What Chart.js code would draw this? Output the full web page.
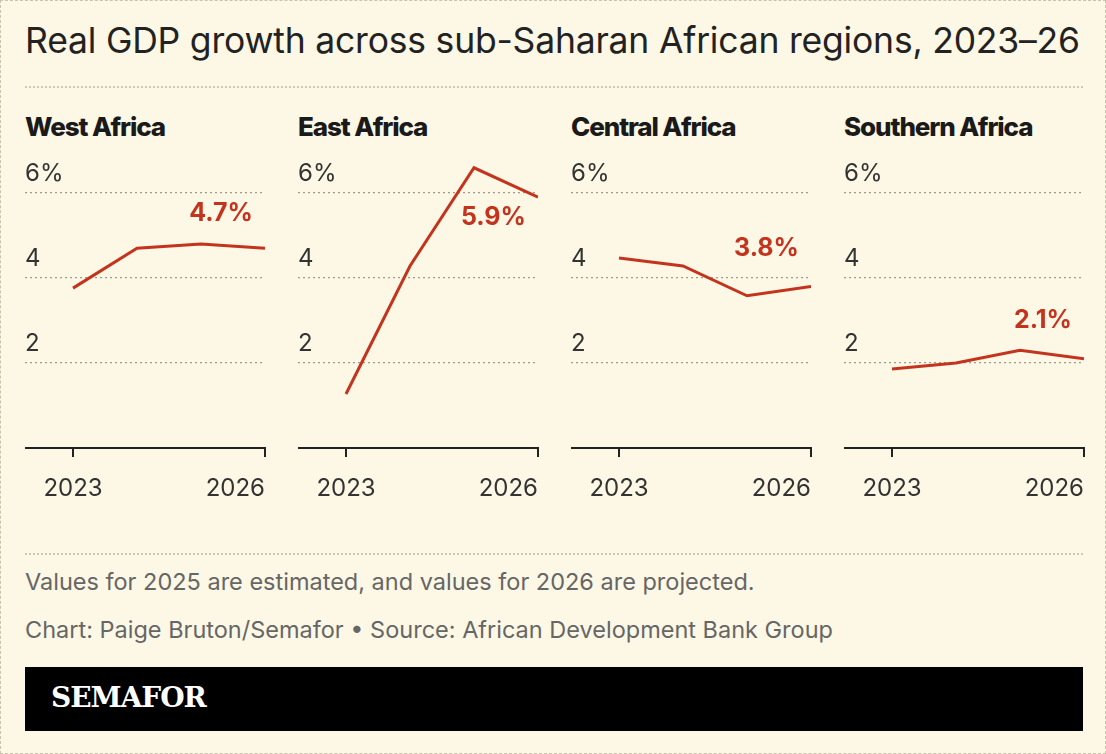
<!DOCTYPE html>
<html><head><meta charset="utf-8">
<script src="https://cdn.jsdelivr.net/npm/chart.js@4"></script>
<style>
body{margin:0;background:#fff;font-family:Inter,Roboto,sans-serif}
#wrap{position:absolute;left:0;top:0;width:1104px;height:752px;background:#fdf8e5;border:1px dashed #c9c3ad}
.title{position:absolute;left:24px;top:18px;font-size:35.5px;color:#222;letter-spacing:-0.2px}
.sep{position:absolute;left:24px;width:1058px;border-top:2px dotted #cfc9b3}
.ptitle{position:absolute;top:110px;font-size:26px;font-weight:800;color:#1a1a1a;letter-spacing:-1.1px}
.panel{position:absolute;top:137px;height:360px}
.note{position:absolute;left:24px;font-size:23.5px;color:#666;letter-spacing:0px}
#bar{position:absolute;left:24px;top:666px;width:1058px;height:64px;background:#000}
#bar span{position:absolute;left:26px;top:14px;color:#fff;font-family:"DejaVu Serif",serif;font-weight:700;font-size:28px;letter-spacing:-1px}
</style></head><body>
<div id="wrap">
<div class="title">Real GDP growth across sub-Saharan African regions, 2023–26</div>
<div class="sep" style="top:85px"></div>
<div class="sep" style="top:552px"></div>
<div class="note" style="top:566px">Values for 2025 are estimated, and values for 2026 are projected.</div>
<div class="note" style="top:614px">Chart: Paige Bruton/Semafor • Source: African Development Bank Group</div>
<div id="bar"><span>SEMAFOR</span></div>
</div>
<script>
const regions = ["West Africa","East Africa","Central Africa","Southern Africa"];
const years = [2023,2024,2025,2026];
const west = [3.76,4.7,4.8,4.7];
const east = [1.27,4.28,6.59,5.9];
const central = [4.47,4.28,3.58,3.8];
const southern = [1.86,2.0,2.3,2.1];
const yTicks = [2,4,6];
const xTicks = [2023,2026];
const series = [west,east,central,southern];
const labelDy = [-35,20,-38,-38];
const panelLeft = [24,297,570,843];
const RED = "#c3341f";

const wrap = document.getElementById("wrap");
regions.forEach((name,i)=>{
  const t = document.createElement("div");
  t.className="ptitle"; t.style.left=panelLeft[i]+"px"; t.textContent=name;
  wrap.appendChild(t);
  const d = document.createElement("div");
  d.className="panel"; d.style.left=panelLeft[i]+"px"; d.style.width="241px";
  const c = document.createElement("canvas"); d.appendChild(c); wrap.appendChild(d);

  const labels = {
    id:"labels"+i,
    afterDraw(ch){
      const g=ch.ctx, xs=ch.scales.x, ys=ch.scales.y;
      g.save();
      g.font="24px Inter, Roboto, sans-serif"; g.fillStyle="#333"; g.textBaseline="alphabetic";
      yTicks.forEach(v=>g.fillText(v===6?"6%":String(v), 0, ys.getPixelForValue(v)-12));
      g.textBaseline="middle";
      xTicks.forEach((v,k)=>{
        g.textAlign = k===xTicks.length-1 ? "right" : "center";
        g.fillText(String(v), xs.getPixelForValue(v), ch.chartArea.bottom+41);
      });
      const vals=series[i], last=vals[vals.length-1];
      g.font="bold 25px Inter, Roboto, sans-serif"; g.fillStyle=RED;
      g.textAlign="right";
      g.fillText(last.toFixed(1)+"%", xs.getPixelForValue(2026)-12, ys.getPixelForValue(last)+labelDy[i]);
      g.restore();
    }
  };
  new Chart(c,{
    type:"line",
    data:{datasets:[{data:years.map((y,k)=>({x:y,y:series[i][k]})),borderColor:RED,borderWidth:3,pointRadius:0,tension:0}]},
    options:{
      responsive:true,maintainAspectRatio:false,animation:false,
      layout:{padding:{left:0,right:1,top:0,bottom:0}},
      plugins:{legend:{display:false},tooltip:{enabled:false}},
      scales:{
        x:{type:"linear",min:2022.25,max:2026,
          afterBuildTicks(s){s.ticks=xTicks.map(v=>({value:v}));},
          afterFit(s){s.height=50;},
          border:{display:true,color:"#222",width:2},
          grid:{drawOnChartArea:false,drawTicks:true,tickLength:9,color:"#222",lineWidth:2},
          ticks:{display:false}},
        y:{min:0,max:7.29,
          afterBuildTicks(s){s.ticks=yTicks.map(v=>({value:v}));},
          afterFit(s){s.width=0;},
          border:{display:false,dash:[2,3]},
          grid:{color:"#9f9b8c",lineWidth:1.3,drawTicks:false},
          ticks:{display:false}}
      }
    },
    plugins:[labels]
  });
});
</script>
</body></html>
